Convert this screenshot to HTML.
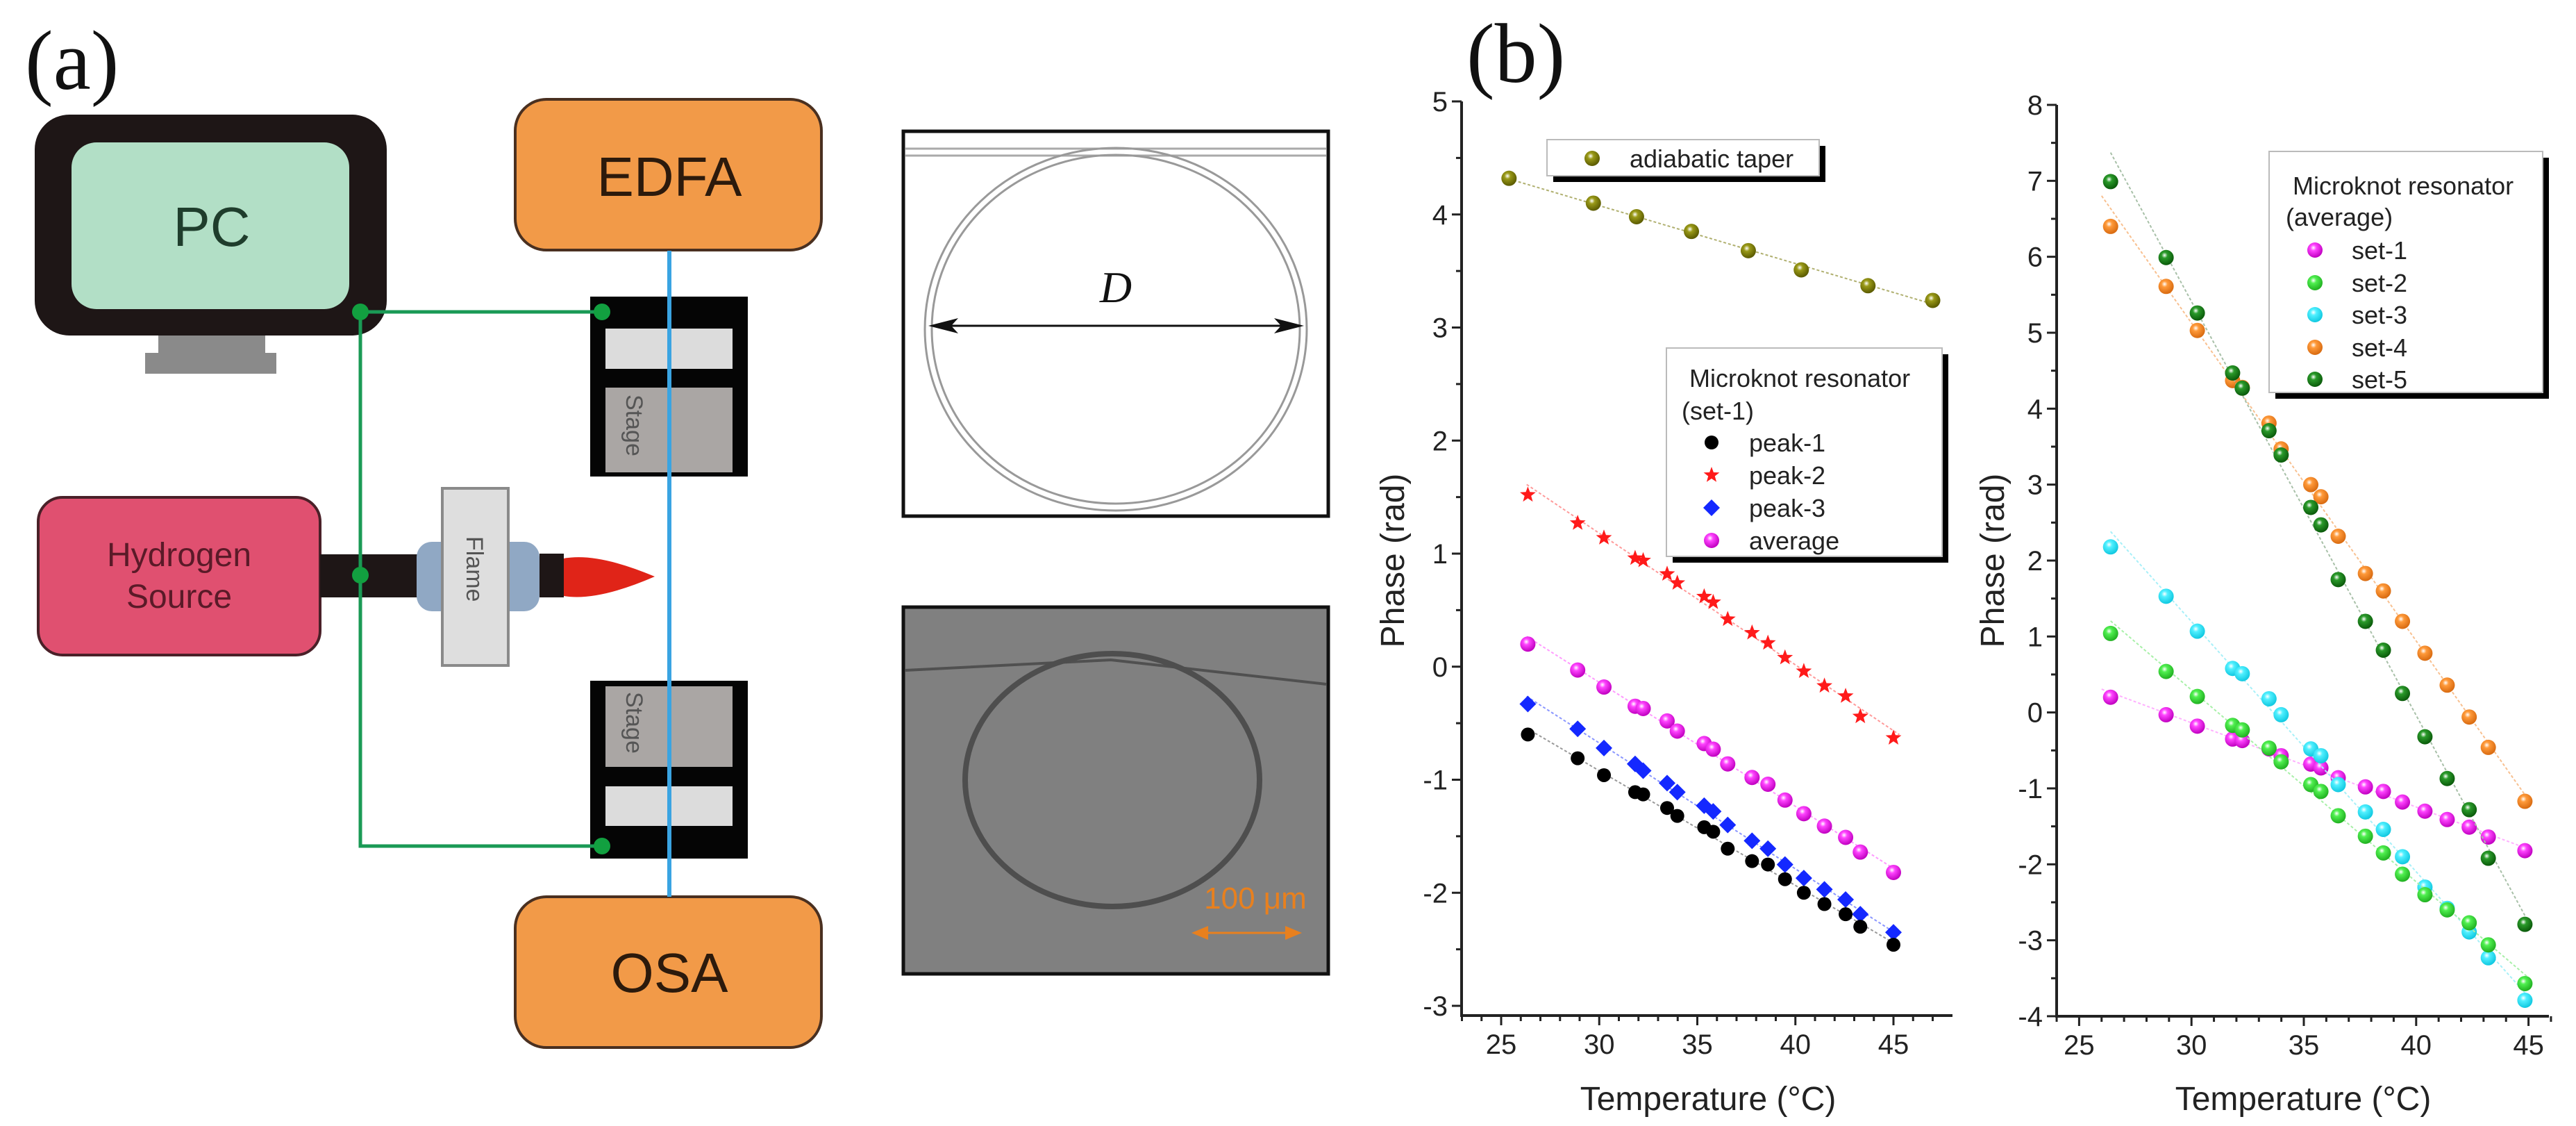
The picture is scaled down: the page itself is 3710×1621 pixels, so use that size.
<!DOCTYPE html>
<html><head><meta charset="utf-8">
<style>
html,body{margin:0;padding:0;background:#fff;}
svg{display:block;font-family:"Liberation Sans",Arial,sans-serif;}
</style></head>
<body>
<svg id="fig" width="3710" height="1621" viewBox="0 0 3710 1621" xmlns="http://www.w3.org/2000/svg">
<defs id="defs"></defs>
<rect x="0" y="0" width="3710" height="1621" fill="#fff"/>

<!-- Panel (a) -->
<g>
  <text x="36" y="128" font-family="Liberation Serif, serif" font-size="122" fill="#111">(a)</text>
  <g>
    <rect x="50" y="165" width="507" height="318" rx="50" fill="#1e1616"/>
    <rect x="103" y="205" width="400" height="240" rx="36" fill="#b2dfc6"/>
    <rect x="228" y="483" width="154" height="26" fill="#8a8a8a"/>
    <rect x="209" y="508" width="189" height="30" fill="#8a8a8a"/>
    <text x="305" y="354" font-size="80" fill="#1f3d2c" text-anchor="middle">PC</text>
  </g>
  <g>
    <rect x="742" y="143" width="441" height="217" rx="45" fill="#f29a48" stroke="#4a3020" stroke-width="4"/>
    <text x="964" y="282" font-size="80" fill="#2c1a0c" text-anchor="middle">EDFA</text>
  </g>
  <g>
    <rect x="742" y="1291" width="441" height="217" rx="45" fill="#f29a48" stroke="#4a3020" stroke-width="4"/>
    <text x="964" y="1428" font-size="80" fill="#2c1a0c" text-anchor="middle">OSA</text>
  </g>
  <g>
    <rect x="850" y="427" width="227" height="259" fill="#050505"/>
    <rect x="872" y="473" width="183" height="58" fill="#dcdcdc"/>
    <rect x="872" y="558" width="183" height="122" fill="#aaa6a4"/>
    <text transform="translate(902,568) rotate(90)" font-size="34" fill="#555">Stage</text>
  </g>
  <g>
    <rect x="850" y="980" width="227" height="256" fill="#050505"/>
    <rect x="872" y="988" width="183" height="116" fill="#aaa6a4"/>
    <rect x="872" y="1132" width="183" height="57" fill="#dcdcdc"/>
    <text transform="translate(902,996) rotate(90)" font-size="34" fill="#555">Stage</text>
  </g>
  <line x1="964" y1="361" x2="964" y2="1291" stroke="#3aa4e2" stroke-width="6"/>
  <g>
    <rect x="55" y="716" width="406" height="227" rx="35" fill="#e05070" stroke="#4a2028" stroke-width="4"/>
    <text x="258" y="815" font-size="48" fill="#5a1a28" text-anchor="middle">Hydrogen</text>
    <text x="258" y="875" font-size="48" fill="#5a1a28" text-anchor="middle">Source</text>
  </g>
  <rect x="461" y="798" width="140" height="62" fill="#1e1616"/>
  <rect x="600" y="780" width="177" height="100" rx="22" fill="#90a8c4"/>
  <rect x="637" y="703" width="95" height="255" fill="#dedede" stroke="#8a8a8a" stroke-width="4"/>
  <text transform="translate(672,772) rotate(90)" font-size="34" fill="#555">Flame</text>
  <rect x="777" y="797" width="35" height="63" fill="#1e1616"/>
  <path d="M812,804 Q860,795 943,830 Q860,866 812,858 Z" fill="#e02418"/>
  <g stroke="#1a9a55" stroke-width="5" fill="none">
    <polyline points="867,449 519,449 519,1218 867,1218"/>
  </g>
  <circle cx="519" cy="449" r="12" fill="#12a040"/>
  <circle cx="867" cy="449" r="12" fill="#12a040"/>
  <circle cx="519" cy="828" r="12" fill="#12a040"/>
  <circle cx="867" cy="1218" r="12" fill="#12a040"/>

  <g>
    <rect x="1301" y="189" width="612" height="554" fill="#fff" stroke="#111" stroke-width="5"/>
    <line x1="1304" y1="214" x2="1910" y2="214" stroke="#aaa" stroke-width="3"/>
    <line x1="1304" y1="224" x2="1910" y2="224" stroke="#aaa" stroke-width="3"/>
    <ellipse cx="1607" cy="474" rx="275" ry="261" fill="none" stroke="#999" stroke-width="3"/>
    <ellipse cx="1607" cy="474" rx="265" ry="251" fill="none" stroke="#999" stroke-width="3"/>
    <line x1="1345" y1="469" x2="1870" y2="469" stroke="#111" stroke-width="3"/>
    <path d="M1337,469 L1380,458 L1370,469 L1380,480 Z" fill="#111"/>
    <path d="M1878,469 L1835,458 L1845,469 L1835,480 Z" fill="#111"/>
    <text x="1607" y="435" font-family="Liberation Serif, serif" font-style="italic" font-size="64" text-anchor="middle" fill="#111">D</text>
  </g>
  <g>
    <rect x="1301" y="874" width="612" height="528" fill="#808080" stroke="#111" stroke-width="5"/>
    <path d="M1304,965 L1600,950 L1910,985" fill="none" stroke="#505050" stroke-width="4"/>
    <ellipse cx="1602" cy="1123" rx="212" ry="182" fill="none" stroke="#4e4e4e" stroke-width="8"/>
    <text x="1808" y="1308" font-size="44" fill="#e8801e" text-anchor="middle">100 μm</text>
    <line x1="1722" y1="1343" x2="1868" y2="1343" stroke="#e8801e" stroke-width="3"/>
    <path d="M1716,1343 L1740,1333 L1740,1353 Z" fill="#e8801e"/>
    <path d="M1875,1343 L1851,1333 L1851,1353 Z" fill="#e8801e"/>
  </g>
</g>

<text x="2112" y="118" font-family="Liberation Serif, serif" font-size="122" fill="#111">(b)</text>
<g id="chartL"></g>
<g id="chartR"></g>
</svg>

<script>
// ---------- data ----------
const taperT = [25.4, 29.7, 31.9, 34.7, 37.6, 40.3, 43.7, 47.0];
const taperPhase = [4.32, 4.10, 3.98, 3.85, 3.68, 3.51, 3.37, 3.24];
const tempL = [26.36, 28.9, 30.24, 31.83, 32.24, 33.46, 33.98, 35.35, 35.81, 36.55, 37.79, 38.6, 39.47, 40.43, 41.48, 42.56, 43.31, 45.0];
const peak1 = [-0.60, -0.81, -0.96, -1.11, -1.13, -1.25, -1.32, -1.42, -1.46, -1.61, -1.72, -1.75, -1.88, -2.00, -2.10, -2.19, -2.30, -2.46];
const peak2 = [1.52, 1.27, 1.14, 0.96, 0.94, 0.82, 0.74, 0.62, 0.57, 0.42, 0.30, 0.21, 0.08, -0.04, -0.17, -0.26, -0.44, -0.63];
const peak3 = [-0.33, -0.55, -0.72, -0.86, -0.92, -1.03, -1.11, -1.23, -1.28, -1.40, -1.54, -1.61, -1.75, -1.87, -1.97, -2.06, -2.19, -2.35];
const avgSet1 = [0.20, -0.03, -0.18, -0.35, -0.37, -0.48, -0.57, -0.68, -0.73, -0.86, -0.98, -1.04, -1.18, -1.30, -1.41, -1.51, -1.64, -1.82];
const tempR = [26.4, 28.87, 30.26, 31.83, 32.26, 33.45, 33.99, 35.31, 35.76, 36.53, 37.74, 38.54, 39.39, 40.39, 41.38, 42.36, 43.21, 44.84];
const set1 = [0.20, -0.03, -0.18, -0.35, -0.37, -0.48, -0.57, -0.68, -0.73, -0.86, -0.98, -1.04, -1.18, -1.30, -1.41, -1.51, -1.64, -1.82];
const set2 = [1.04, 0.54, 0.21, -0.17, -0.23, -0.47, -0.65, -0.95, -1.04, -1.36, -1.63, -1.85, -2.13, -2.40, -2.60, -2.77, -3.06, -3.57];
const set3 = [2.18, 1.53, 1.07, 0.58, 0.51, 0.18, -0.03, -0.48, -0.57, -0.95, -1.31, -1.54, -1.90, -2.30, -2.58, -2.89, -3.23, -3.79];
const set4 = [6.40, 5.61, 5.03, 4.37, 4.28, 3.81, 3.47, 3.00, 2.84, 2.32, 1.83, 1.60, 1.20, 0.78, 0.36, -0.06, -0.46, -1.17];
const set5 = [6.99, 5.99, 5.26, 4.47, 4.27, 3.71, 3.39, 2.70, 2.47, 1.75, 1.20, 0.82, 0.25, -0.32, -0.87, -1.28, -1.92, -2.79];
const xTicks = [25, 30, 35, 40, 45];
const yTicksL = [5, 4, 3, 2, 1, 0, -1, -2, -3];
const yTicksR = [8, 7, 6, 5, 4, 3, 2, 1, 0, -1, -2, -3, -4];

const NS = 'http://www.w3.org/2000/svg';
function mk(tag, attrs, parent) {
  const e = document.createElementNS(NS, tag);
  for (const k in attrs) e.setAttribute(k, attrs[k]);
  parent.appendChild(e);
  return e;
}
const defs = document.getElementById('defs');
function sphereGrad(id, color, dark) {
  const g = mk('radialGradient', {id: id, cx: '0.4', cy: '0.35', r: '0.65'}, defs);
  mk('stop', {offset: '0', 'stop-color': '#ffffff'}, g);
  mk('stop', {offset: '0.3', 'stop-color': color}, g);
  mk('stop', {offset: '1', 'stop-color': dark}, g);
}
sphereGrad('gOlive', '#9a9a18', '#5a5a00');
sphereGrad('gMag', '#ff44ff', '#c000c0');
sphereGrad('gGreen', '#50f050', '#20b020');
sphereGrad('gCyan', '#50f0ff', '#10c8e0');
sphereGrad('gOrange', '#ff9a3a', '#d86a10');
sphereGrad('gDkGreen', '#2a9a2a', '#0a5a0a');

function marker(parent, kind, cx, cy, fill, name) {
  let el;
  if (kind === 'sphere') {
    el = mk('circle', {cx: cx, cy: cy, r: 11, fill: fill}, parent);
  } else if (kind === 'dot') {
    el = mk('circle', {cx: cx, cy: cy, r: 10, fill: fill}, parent);
  } else if (kind === 'diamond') {
    const s = 12;
    el = mk('path', {d: `M${cx},${cy - s} L${cx + s},${cy} L${cx},${cy + s} L${cx - s},${cy} Z`, fill: fill}, parent);
  } else {
    let d = '';
    for (let i = 0; i < 10; i++) {
      const r = i % 2 ? 5 : 12;
      const a = -Math.PI / 2 + i * Math.PI / 5;
      d += (i ? 'L' : 'M') + (cx + r * Math.cos(a)).toFixed(1) + ',' + (cy + r * Math.sin(a)).toFixed(1);
    }
    el = mk('path', {d: d + 'Z', fill: fill}, parent);
  }
  
  
  return el;
}
function fit(xs, ys) {
  const n = xs.length;
  let sx = 0, sy = 0, sxx = 0, sxy = 0;
  for (let i = 0; i < n; i++) { sx += xs[i]; sy += ys[i]; sxx += xs[i] * xs[i]; sxy += xs[i] * ys[i]; }
  const b = (n * sxy - sx * sy) / (n * sxx - sx * sx);
  return {a: (sy - b * sx) / n, b: b};
}

function drawAxes(g, o) {
  const ax = mk('g', {}, g);
  
  
  let l = mk('line', {x1: o.x0, y1: o.yTop, x2: o.x0, y2: o.yAxis, stroke: '#222', 'stroke-width': 4}, ax);
  
  
  l = mk('line', {x1: o.x0 - 2, y1: o.yAxis, x2: o.xEnd, y2: o.yAxis, stroke: '#222', 'stroke-width': 4}, ax);
  
  
  for (let v = o.xMin; v <= o.xMax + 1e-6; v += 1) {
    const major = Math.abs(v % 5) < 1e-6;
    const t = mk('line', {x1: o.xs(v), y1: o.yAxis, x2: o.xs(v), y2: o.yAxis + (major ? 14 : 8), stroke: '#222', 'stroke-width': 3}, ax);
    
    
  }
  for (const v of xTicks) {
    const t = mk('text', {x: o.xs(v), y: o.yAxis + 55, 'font-size': 40, 'text-anchor': 'middle', fill: '#222'}, ax);
    t.textContent = v;
    
    
  }
  const yt = o.yticks;
  for (let v = yt[yt.length - 1]; v <= yt[0] + 1e-6; v += 0.5) {
    const major = Math.abs(v - Math.round(v)) < 1e-6;
    const t = mk('line', {x1: o.x0, y1: o.ys(v), x2: o.x0 - (major ? 14 : 8), y2: o.ys(v), stroke: '#222', 'stroke-width': 3}, ax);
    
    
  }
  for (const v of yt) {
    const t = mk('text', {x: o.x0 - 20, y: o.ys(v) + 14, 'font-size': 40, 'text-anchor': 'end', fill: '#222'}, ax);
    t.textContent = v;
    
    
  }
  let t = mk('text', {x: o.xTitle, y: 1598, 'font-size': 48, 'text-anchor': 'middle', fill: '#222'}, g);
  t.textContent = 'Temperature (°C)';
  
  
  t = mk('text', {x: 0, y: 0, 'font-size': 48, 'text-anchor': 'middle', fill: '#222', transform: `translate(${o.yTitleX},807) rotate(-90)`}, g);
  t.textContent = 'Phase (rad)';
  
  
}

function series(g, o, xs, ys, kind, fill, lineColor, name, x1, x2) {
  const sg = mk('g', {}, g);
  
  
  const f = fit(xs, ys);
  const fl = mk('line', {x1: o.xs(x1), y1: o.ys(f.a + f.b * x1), x2: o.xs(x2), y2: o.ys(f.a + f.b * x2), stroke: lineColor, 'stroke-width': 2, 'stroke-dasharray': '4 3'}, sg);
  
  
  for (let i = 0; i < xs.length; i++) marker(sg, kind, o.xs(xs[i]), o.ys(ys[i]), fill, name + '-point');
}

function legendBox(g, x, y, w, h, name) {
  const sh = mk('rect', {x: x + 9, y: y + 9, width: w, height: h, fill: '#000'}, g);
  
  
  const r = mk('rect', {x: x, y: y, width: w, height: h, fill: '#fff', stroke: '#bbb', 'stroke-width': 2}, g);
  
  
}
function legText(g, x, y, s, name) {
  const t = mk('text', {x: x, y: y, 'font-size': 36, fill: '#222'}, g);
  t.textContent = s;
  
  
}

// ---------- left chart ----------
const gL = document.getElementById('chartL');
const oL = {
  xs: v => 2162 + (v - 25) * 28.25,
  ys: v => 146 + (5 - v) * 162.75,
  x0: 2105, yTop: 146, yAxis: 1462, xEnd: 2812, xMin: 23, xMax: 47, yticks: yTicksL,
  xTitle: 2460, yTitleX: 2022
};
drawAxes(gL, oL);
series(gL, oL, taperT, taperPhase, 'sphere', 'url(#gOlive)', '#b0b070', 'series-adiabatic-taper', 25.4, 47.2);
series(gL, oL, tempL, peak2, 'star', '#ff1a1a', '#ff9a9a', 'series-peak-2', 26.3, 45.3);
series(gL, oL, tempL, avgSet1, 'sphere', 'url(#gMag)', '#ff9aff', 'series-average', 26.3, 45.3);
series(gL, oL, tempL, peak3, 'diamond', '#1428ff', '#8a96ff', 'series-peak-3', 26.3, 45.3);
series(gL, oL, tempL, peak1, 'dot', '#000', '#999', 'series-peak-1', 26.3, 45.3);

const lg1 = mk('g', {}, gL);


legendBox(lg1, 2228, 201, 392, 52, 'legend-taper-box');
marker(lg1, 'sphere', 2293, 228, 'url(#gOlive)', 'legend-marker-taper');
legText(lg1, 2347, 241, 'adiabatic taper', 'legend-entry-taper');

const lg2 = mk('g', {}, gL);


legendBox(lg2, 2400, 501, 397, 300, 'legend-set1-box');
legText(lg2, 2433, 557, 'Microknot resonator', 'legend-title');
legText(lg2, 2422, 604, '(set-1)', 'legend-subtitle');
const l2Kinds = ['dot', 'star', 'diamond', 'sphere'];
const l2Fills = ['#000', '#ff1a1a', '#1428ff', 'url(#gMag)'];
const l2Labels = ['peak-1', 'peak-2', 'peak-3', 'average'];
const l2Y = [637, 684, 731, 778];
for (let i = 0; i < 4; i++) {
  marker(lg2, l2Kinds[i], 2465, l2Y[i], l2Fills[i], 'legend-marker-' + l2Labels[i]);
  legText(lg2, 2519, l2Y[i] + 13, l2Labels[i], 'legend-entry-' + l2Labels[i]);
}

// ---------- right chart ----------
const gR = document.getElementById('chartR');
const oR = {
  xs: v => 2994.4 + (v - 25) * 32.36,
  ys: v => 151 + (8 - v) * 109.33,
  x0: 2962, yTop: 151, yAxis: 1463, xEnd: 3671, xMin: 24, xMax: 46, yticks: yTicksR,
  xTitle: 3317, yTitleX: 2886
};
drawAxes(gR, oR);
series(gR, oR, tempR, set1, 'sphere', 'url(#gMag)', '#ffb0ff', 'series-set-1', 26.0, 45.0);
series(gR, oR, tempR, set4, 'sphere', 'url(#gOrange)', '#f8c090', 'series-set-4', 26.0, 45.0);
series(gR, oR, tempR, set5, 'sphere', 'url(#gDkGreen)', '#a8c0a8', 'series-set-5', 26.4, 45.0);
series(gR, oR, tempR, set3, 'sphere', 'url(#gCyan)', '#a8f0f8', 'series-set-3', 26.4, 45.0);
series(gR, oR, tempR, set2, 'sphere', 'url(#gGreen)', '#a8f0a8', 'series-set-2', 26.4, 45.0);

const lg3 = mk('g', {}, gR);


legendBox(lg3, 3268, 218, 394, 347, 'legend-average-box');
legText(lg3, 3302, 280, 'Microknot resonator', 'legend-title');
legText(lg3, 3292, 325, '(average)', 'legend-subtitle');
const l3Fills = ['url(#gMag)', 'url(#gGreen)', 'url(#gCyan)', 'url(#gOrange)', 'url(#gDkGreen)'];
const l3Labels = ['set-1', 'set-2', 'set-3', 'set-4', 'set-5'];
const l3Y = [360, 407, 453, 500, 546];
for (let i = 0; i < 5; i++) {
  marker(lg3, 'sphere', 3334, l3Y[i], l3Fills[i], 'legend-marker-' + l3Labels[i]);
  legText(lg3, 3387, l3Y[i] + 13, l3Labels[i], 'legend-entry-' + l3Labels[i]);
}
</script>
</body></html>
